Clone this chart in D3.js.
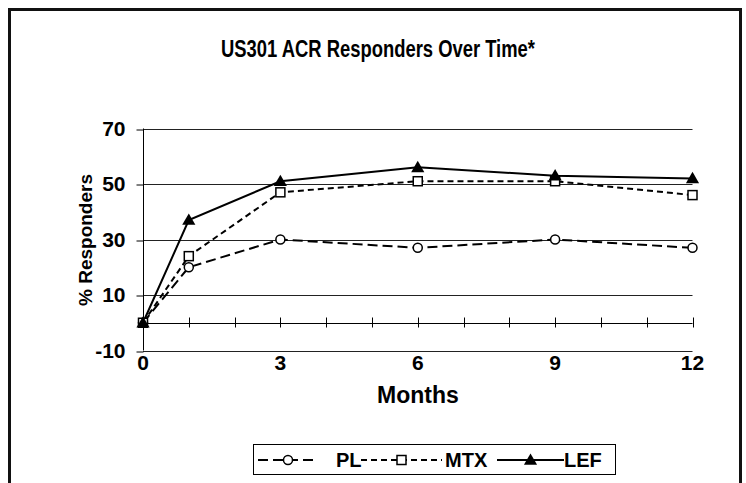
<!DOCTYPE html>
<html>
<head>
<meta charset="utf-8">
<script src="https://cdn.jsdelivr.net/npm/d3@7"></script>
<style>
    body { margin: 0; background: #fff; }
    text { font-family: "Liberation Sans", Arial, sans-serif; font-weight: bold; fill: #000; }
</style>
</head>
<body>
<div id="chart"></div>
<script>
// 1. 데이터
const months = [0, 1, 3, 6, 9, 12]; // 측정 시점 (개월)
const plValues = [0, 20, 30, 27, 30, 27]; // PL
const mtxValues = [0, 24, 47, 51, 51, 46]; // MTX
const lefValues = [0, 37, 51, 56, 53, 52]; // LEF
const seriesNames = ["PL", "MTX", "LEF"];
const yTicks = [-10, 10, 30, 50, 70]; // y축 눈금
const xLabelTicks = [0, 3, 6, 9, 12]; // x축 라벨
const xMinorTicks = d3.range(0, 13); // 매월 눈금

// 2. SVG 컨테이너 설정
const width = 746;
const height = 483;

const svg = d3.select("#chart")
    .append("svg")
    .attr("width", width)
    .attr("height", height);

// 바깥 테두리
svg.append("rect")
    .attr("x", 9.5).attr("y", 9.5)
    .attr("width", 731).attr("height", 500)
    .attr("fill", "none")
    .attr("stroke", "#111")
    .attr("stroke-width", 3);

// 3. 스케일
const x = d3.scaleLinear().domain([0, 12]).range([143, 692.5]);
const y = d3.scaleLinear().domain([-10, 70]).range([350.5, 128.5]);

// 4. 제목
svg.append("text")
    .attr("x", 378).attr("y", 57)
    .attr("text-anchor", "middle")
    .attr("font-size", 23)
    .attr("textLength", 314)
    .attr("lengthAdjust", "spacingAndGlyphs")
    .text("US301 ACR Responders Over Time*");

// 5. 격자선
svg.append("g")
    .selectAll("line")
    .data(yTicks)
    .enter().append("line")
    .attr("x1", x(0)).attr("x2", x(12))
    .attr("y1", d => Math.round(y(d)) + 0.5)
    .attr("y2", d => Math.round(y(d)) + 0.5)
    .attr("stroke", "#222")
    .attr("stroke-width", 1);

// 6. y축 (왼쪽 세로선 + 바깥 눈금)
const yAxis = d3.axisLeft(y)
    .tickValues(yTicks)
    .tickSize(7)
    .tickPadding(11)
    .tickFormat(d => String(d)); // 일반 하이픈으로 음수 표시

const yAxisG = svg.append("g")
    .attr("transform", `translate(${Math.round(x(0)) + 0.5},0)`)
    .call(yAxis);
yAxisG.select(".domain").attr("stroke", "#000").attr("d", `M0,${y(70)}V${y(-10)}`);
yAxisG.selectAll(".tick line").attr("stroke", "#000")
    .attr("transform", d => `translate(0,${Math.round(y(d)) + 0.5 - y(d)})`);
yAxisG.selectAll(".tick text")
    .attr("text-anchor", "end")
    .attr("font-size", 21)
    .attr("font-family", "Liberation Sans, Arial, sans-serif")
    .attr("font-weight", "bold")
    .attr("fill", "#000");

// 7. x축 (y=0 위치의 선과 매월 교차 눈금)
const zeroY = Math.round(y(0)) + 0.5;
svg.append("line")
    .attr("x1", x(0)).attr("x2", x(12))
    .attr("y1", zeroY).attr("y2", zeroY)
    .attr("stroke", "#000");

svg.append("g")
    .selectAll("line")
    .data(xMinorTicks)
    .enter().append("line")
    .attr("x1", d => Math.round(x(d)) + 0.5)
    .attr("x2", d => Math.round(x(d)) + 0.5)
    .attr("y1", zeroY - 6).attr("y2", zeroY + 4)
    .attr("stroke", "#000");

// x축 라벨은 아래쪽(-10 아래)에 표시
svg.append("g")
    .selectAll("text")
    .data(xLabelTicks)
    .enter().append("text")
    .attr("x", d => x(d))
    .attr("y", 370)
    .attr("text-anchor", "middle")
    .attr("font-size", 21)
    .text(d => d);

// 8. 축 제목
svg.append("text")
    .attr("x", 418).attr("y", 403)
    .attr("text-anchor", "middle")
    .attr("font-size", 23)
    .text("Months");

svg.append("text")
    .attr("transform", "translate(92,240) rotate(-90)")
    .attr("text-anchor", "middle")
    .attr("font-size", 19)
    .text("% Responders");

// 9. 시리즈 정의
const series = [
    { name: seriesNames[0], values: plValues, dash: "10,5", marker: "circle" },
    { name: seriesNames[1], values: mtxValues, dash: "6,4", marker: "square" },
    { name: seriesNames[2], values: lefValues, dash: null, marker: "triangle" }
];

const line = d3.line()
    .x((d, i) => x(months[i]))
    .y(d => y(d));

// 마커 그리기 함수
function drawMarker(sel, type, cx, cy) {
    if (type === "circle") {
        sel.append("circle")
            .attr("cx", cx).attr("cy", cy).attr("r", 4.5)
            .attr("fill", "#fff").attr("stroke", "#000").attr("stroke-width", 1.5);
    } else if (type === "square") {
        sel.append("rect")
            .attr("x", cx - 4.5).attr("y", cy - 4.5)
            .attr("width", 9).attr("height", 9)
            .attr("fill", "#fff").attr("stroke", "#000").attr("stroke-width", 1.5);
    } else {
        sel.append("path")
            .attr("d", d3.symbol().type(d3.symbolTriangle).size(75)())
            .attr("transform", `translate(${cx},${cy + 1})`)
            .attr("fill", "#000");
    }
}

// 10. 선과 마커 그리기
series.forEach(s => {
    svg.append("path")
        .datum(s.values)
        .attr("d", line)
        .attr("fill", "none")
        .attr("stroke", "#000")
        .attr("stroke-width", 2)
        .attr("stroke-dasharray", s.dash);
});
series.forEach(s => {
    const g = svg.append("g");
    s.values.forEach((v, i) => drawMarker(g, s.marker, x(months[i]), y(v)));
});

// 11. 범례
const legend = svg.append("g");
legend.append("rect")
    .attr("x", 253.5).attr("y", 444.5)
    .attr("width", 362).attr("height", 30)
    .attr("fill", "#fff")
    .attr("stroke", "#000");

const legendItems = [
    { s: series[0], x1: 258, x2: 318, textX: 336 },
    { s: series[1], x1: 361, x2: 442, textX: 445 },
    { s: series[2], x1: 497, x2: 564, textX: 564 }
];
const legendY = 460;
legendItems.forEach(it => {
    legend.append("line")
        .attr("x1", it.x1).attr("x2", it.x2)
        .attr("y1", legendY).attr("y2", legendY)
        .attr("stroke", "#000")
        .attr("stroke-width", 2)
        .attr("stroke-dasharray", it.s.dash);
    drawMarker(legend, it.s.marker, (it.x1 + it.x2) / 2, legendY);
    legend.append("text")
        .attr("x", it.textX).attr("y", legendY + 7)
        .attr("font-size", 20)
        .text(it.s.name);
});
</script>
</body>
</html>
